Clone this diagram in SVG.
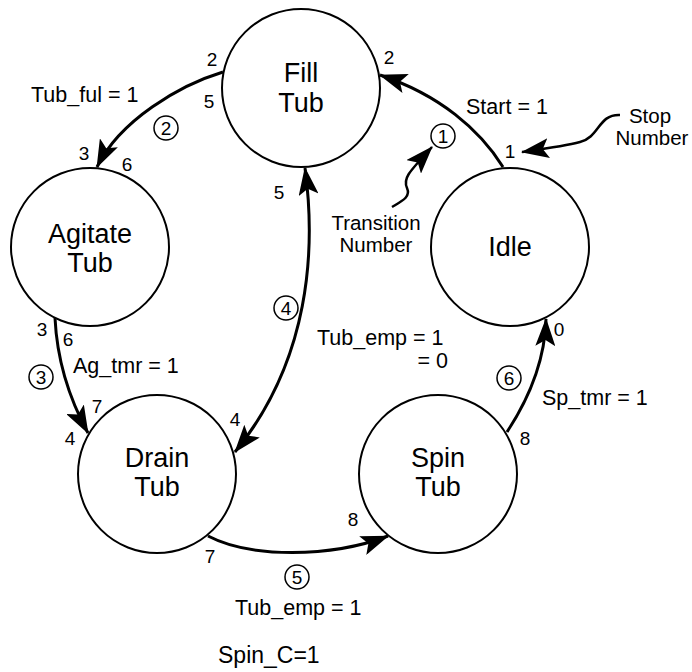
<svg xmlns="http://www.w3.org/2000/svg" width="692" height="672" viewBox="0 0 692 672">
<style>
.node{fill:#fff;stroke:#000;stroke-width:2}
.nt{font-family:"Liberation Sans",Arial,sans-serif;font-size:27px;text-anchor:middle;fill:#000}
.lb{font-family:"Liberation Sans",Arial,sans-serif;font-size:21.5px;fill:#000}
.nb{font-family:"Liberation Sans",Arial,sans-serif;font-size:20.5px;fill:#000;text-anchor:middle}
.sn{font-family:"Liberation Sans",Arial,sans-serif;font-size:19px;text-anchor:middle;fill:#000}
.tc{fill:#fff;stroke:#000;stroke-width:1.5}
.edge{fill:none;stroke:#000;stroke-width:3}
.note{fill:none;stroke:#000;stroke-width:2.5}
</style>
<defs>
<marker id="ah" markerUnits="userSpaceOnUse" markerWidth="28" markerHeight="20" viewBox="0 0 28 20" refX="27" refY="10" orient="auto-start-reverse">
<path d="M0,0 L28,10 L0,20 L6,10 z" fill="#000"/>
</marker>
</defs>
<g id="connectors">
<path class="edge" d="M503,167 C480,130 440,95 380,75" marker-end="url(#ah)"/>
<path class="edge" d="M223,72 C180,85 120,120 97,167" marker-end="url(#ah)"/>
<path class="edge" d="M55,318 C57,360 70,400 88,433" marker-end="url(#ah)"/>
<path class="edge" d="M305,168 C316,250 310,360 235,452" marker-start="url(#ah)" marker-end="url(#ah)"/>
<path class="edge" d="M208,536 C250,558 330,558 388,536" marker-end="url(#ah)"/>
<path class="edge" d="M507,432 C528,400 545,360 546,319" marker-end="url(#ah)"/>
<path class="note" d="M620,115 C598,114 600,137 580,142 C565,146 550,148 522,152" marker-end="url(#ah)"/>
<path class="note" d="M392,207 C402,201 411,197 407,188 C403,179 407,174 432,147" marker-end="url(#ah)"/>
</g>
<g id="fill-tub">
<circle class="node" cx="301" cy="88" r="79"/>
<text class="nt" x="301" y="82">Fill</text>
<text class="nt" x="301" y="112">Tub</text>
</g>
<g id="agitate-tub">
<circle class="node" cx="90" cy="247" r="79"/>
<text class="nt" x="90" y="243">Agitate</text>
<text class="nt" x="90" y="272">Tub</text>
</g>
<g id="idle">
<circle class="node" cx="510" cy="247" r="79"/>
<text class="nt" x="510" y="256">Idle</text>
</g>
<g id="drain-tub">
<circle class="node" cx="157" cy="474" r="79"/>
<text class="nt" x="157" y="467">Drain</text>
<text class="nt" x="157" y="496">Tub</text>
</g>
<g id="spin-tub">
<circle class="node" cx="438" cy="474" r="79"/>
<text class="nt" x="438" y="467">Spin</text>
<text class="nt" x="438" y="496">Tub</text>
</g>
<g id="transition-numbers">
<circle class="tc" cx="443" cy="136" r="12"/><text class="sn" x="443" y="143">1</text>
<circle class="tc" cx="166" cy="128" r="12"/><text class="sn" x="166" y="135">2</text>
<circle class="tc" cx="41" cy="377" r="12"/><text class="sn" x="41" y="384">3</text>
<circle class="tc" cx="286" cy="308" r="12"/><text class="sn" x="286" y="315">4</text>
<circle class="tc" cx="297" cy="577" r="12"/><text class="sn" x="297" y="584">5</text>
<circle class="tc" cx="509" cy="378" r="12"/><text class="sn" x="509" y="385">6</text>
</g>
<g id="stop-numbers">
<text class="sn" x="212" y="66">2</text>
<text class="sn" x="209" y="108">5</text>
<text class="sn" x="84" y="160">3</text>
<text class="sn" x="127" y="171">6</text>
<text class="sn" x="279" y="199">5</text>
<text class="sn" x="389" y="64">2</text>
<text class="sn" x="510" y="158">1</text>
<text class="sn" x="559" y="336">0</text>
<text class="sn" x="525" y="445">8</text>
<text class="sn" x="42" y="336">3</text>
<text class="sn" x="68" y="346">6</text>
<text class="sn" x="97" y="413">7</text>
<text class="sn" x="70" y="445">4</text>
<text class="sn" x="235" y="426">4</text>
<text class="sn" x="353" y="526">8</text>
<text class="sn" x="210" y="563">7</text>
</g>
<g id="labels">
<text class="lb" x="31" y="102">Tub_ful = 1</text>
<text class="lb" x="466" y="114">Start = 1</text>
<text class="nb" x="650" y="123">Stop</text>
<text class="nb" x="652" y="145">Number</text>
<text class="nb" x="376" y="230">Transition</text>
<text class="nb" x="376" y="252">Number</text>
<text class="lb" x="317" y="345">Tub_emp = 1</text>
<text class="lb" x="448" y="368" text-anchor="end">= 0</text>
<text class="lb" x="73" y="373">Ag_tmr = 1</text>
<text class="lb" x="542" y="405">Sp_tmr = 1</text>
<text class="lb" x="235" y="615">Tub_emp = 1</text>
<text class="lb" x="218" y="663" style="font-size:23px">Spin_C=1</text>
</g>
</svg>
